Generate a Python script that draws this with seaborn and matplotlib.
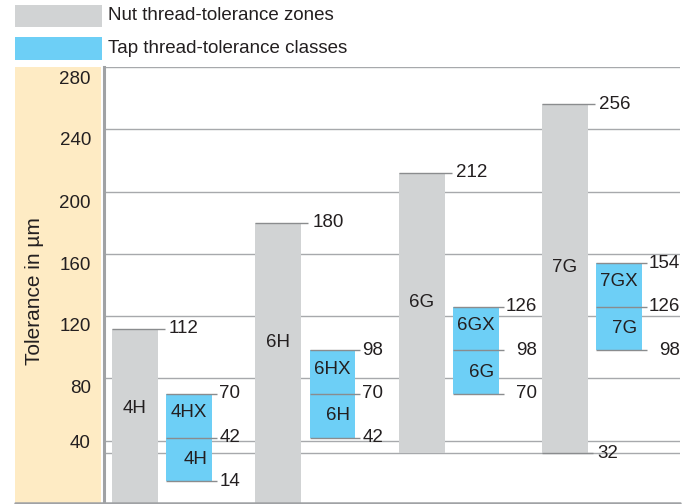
import matplotlib
matplotlib.use("Agg")
import matplotlib.pyplot as plt
import matplotlib.transforms as mtransforms
from matplotlib.patches import Rectangle
from matplotlib.lines import Line2D
import seaborn as sns
import pandas as pd

# ---- data -------------------------------------------------------------
nut_classes = ["4H", "6H", "6G", "7G"]
nut_lower = [0, 0, 32, 32]
nut_upper = [112, 180, 212, 256]

tap_low_names = ["4H", "6H", "6G", "7G"]
tap_high_names = ["4HX", "6HX", "6GX", "7GX"]
tap_bottom = [14, 42, 70, 98]
tap_middle = [42, 70, 98, 126]
tap_top = [70, 98, 126, 154]

y_ticks = [40, 80, 120, 160, 200, 240, 280]
legend_labels = ["Nut thread-tolerance zones", "Tap thread-tolerance classes"]
y_title = "Tolerance in µm"

# ---- style ------------------------------------------------------------
sns.set_theme(style="white")
plt.rcParams["font.family"] = ["Liberation Sans", "DejaVu Sans"]

GRAY = "#D1D3D4"
BLUE = "#6DCFF6"
BEIGE = "#FEEBC4"
GRID = "#A7A9AC"
MARK = "#8A8C8E"
TXT = "#231F20"
FS = 13.5

W, H = 694, 504
fig = plt.figure(figsize=(W / 100, H / 100), dpi=100)
ax = fig.add_axes([104 / W, 1 / H, 576 / W, 436 / H])

nut = pd.DataFrame({"cls": nut_classes, "lo": nut_lower, "hi": nut_upper})
nut["g"] = range(len(nut))
tap = pd.DataFrame({"lo_name": tap_low_names, "hi_name": tap_high_names,
                    "b": tap_bottom, "m": tap_middle, "t": tap_top})
tap["g"] = range(len(tap))

bar_w = 0.32
tap_shift = 0.378
px = 143.3  # pixels per group step

ax.set_xlim(-0.2163, 3.803)
ax.set_ylim(0, 280)

# gridlines
for v in y_ticks:
    ax.axhline(v, color=GRID, lw=1.0, zorder=0)
ax.axhline(32, color=GRID, lw=1.0, zorder=0)

# nut zones (grey floating bars)
ax.bar(nut["g"], nut["hi"] - nut["lo"], bottom=nut["lo"], width=bar_w,
       color=GRAY, linewidth=0, zorder=1)
# tap classes (blue floating bars)
ax.bar(tap["g"] + tap_shift, tap["t"] - tap["b"], bottom=tap["b"], width=bar_w,
       color=BLUE, linewidth=0, zorder=1)

to_pts = lambda p: p * 0.72


def value_mark(x0, x1, y, label, ha, xoff_px):
    ax.plot([x0, x1], [y, y], color=MARK, lw=1.0, zorder=2, solid_capstyle="butt")
    ax.annotate(str(label), (x1, y), xytext=(to_pts(xoff_px), 0),
                textcoords="offset points", ha=ha, va="center",
                fontsize=FS, color=TXT, zorder=3)


# nut zone labels
nut_label_y = [61, 103, 129, 151]
for _, r in nut.iterrows():
    g = r["g"]
    left = g - bar_w / 2
    right = g + bar_w / 2 + 7 / px
    value_mark(left, right, r["hi"], r["hi"], "left", 4)
    if r["lo"] > 0 and g == nut["g"].max():
        value_mark(left, right - 2 / px, r["lo"], r["lo"], "left", 4)
    ax.text(g, nut_label_y[int(g)], r["cls"], ha="center", va="center",
            fontsize=FS, color=TXT, zorder=3)

# tap class labels
for _, r in tap.iterrows():
    c = r["g"] + tap_shift
    left = c - bar_w / 2
    right = c + bar_w / 2 + 5 / px
    vals = [r["t"], r["m"], r["b"]]
    ndig = max(len(str(v)) for v in vals)
    for v in vals:
        value_mark(left, right, v, v, "right", 3 + 10 * ndig)
    ax.text(c, r["t"] - 12, r["hi_name"], ha="center", va="center",
            fontsize=FS, color=TXT, zorder=3)
    ax.annotate(r["lo_name"], (c + bar_w / 2, (r["b"] + r["m"]) / 2),
                xytext=(to_pts(-5), 0), textcoords="offset points",
                ha="right", va="center", fontsize=FS, color=TXT, zorder=3)

# axes frame
for s in ["top", "right"]:
    ax.spines[s].set_visible(False)
ax.spines["left"].set_color("#A0A2A5")
ax.spines["left"].set_linewidth(2.2)
ax.spines["bottom"].set_visible(False)
ax.set_xticks([])
ax.set_yticks(y_ticks)
ax.set_yticklabels([str(v) for v in y_ticks], fontsize=FS, color=TXT)
ax.tick_params(axis="y", length=0, pad=to_pts(13))
label_drop = [3, 10, 10.5, 12, 12, 11.5, 12]
for lab, d in zip(ax.get_yticklabels(), label_drop):
    lab.set_va("center")
    lab.set_transform(lab.get_transform() +
                      mtransforms.ScaledTranslation(0, -d / 100, fig.dpi_scale_trans))

# beige title band and bottom rule
fig.add_artist(Rectangle((15 / W, 0), 86 / W, 437 / H, transform=fig.transFigure,
                         facecolor=BEIGE, edgecolor="none", zorder=0))
fig.add_artist(Line2D([15 / W, 680 / W], [1.2 / H, 1.2 / H], transform=fig.transFigure,
                      color="#A0A2A5", lw=1.8))
fig.text(35 / W, 1 - 291 / H, y_title, rotation=90, ha="center", va="center",
         fontsize=15, color=TXT)

# legend
for (y0, y1), col, lab in zip([(5, 27), (37, 60)], [GRAY, BLUE], legend_labels):
    fig.add_artist(Rectangle((15 / W, 1 - y1 / H), 87 / W, (y1 - y0) / H,
                             transform=fig.transFigure, facecolor=col,
                             edgecolor="none"))
    fig.text(108 / W, 1 - (y0 + y1) / 2 / H, lab, ha="left", va="center",
             fontsize=FS, color=TXT)

fig.savefig("out.png", dpi=100)
